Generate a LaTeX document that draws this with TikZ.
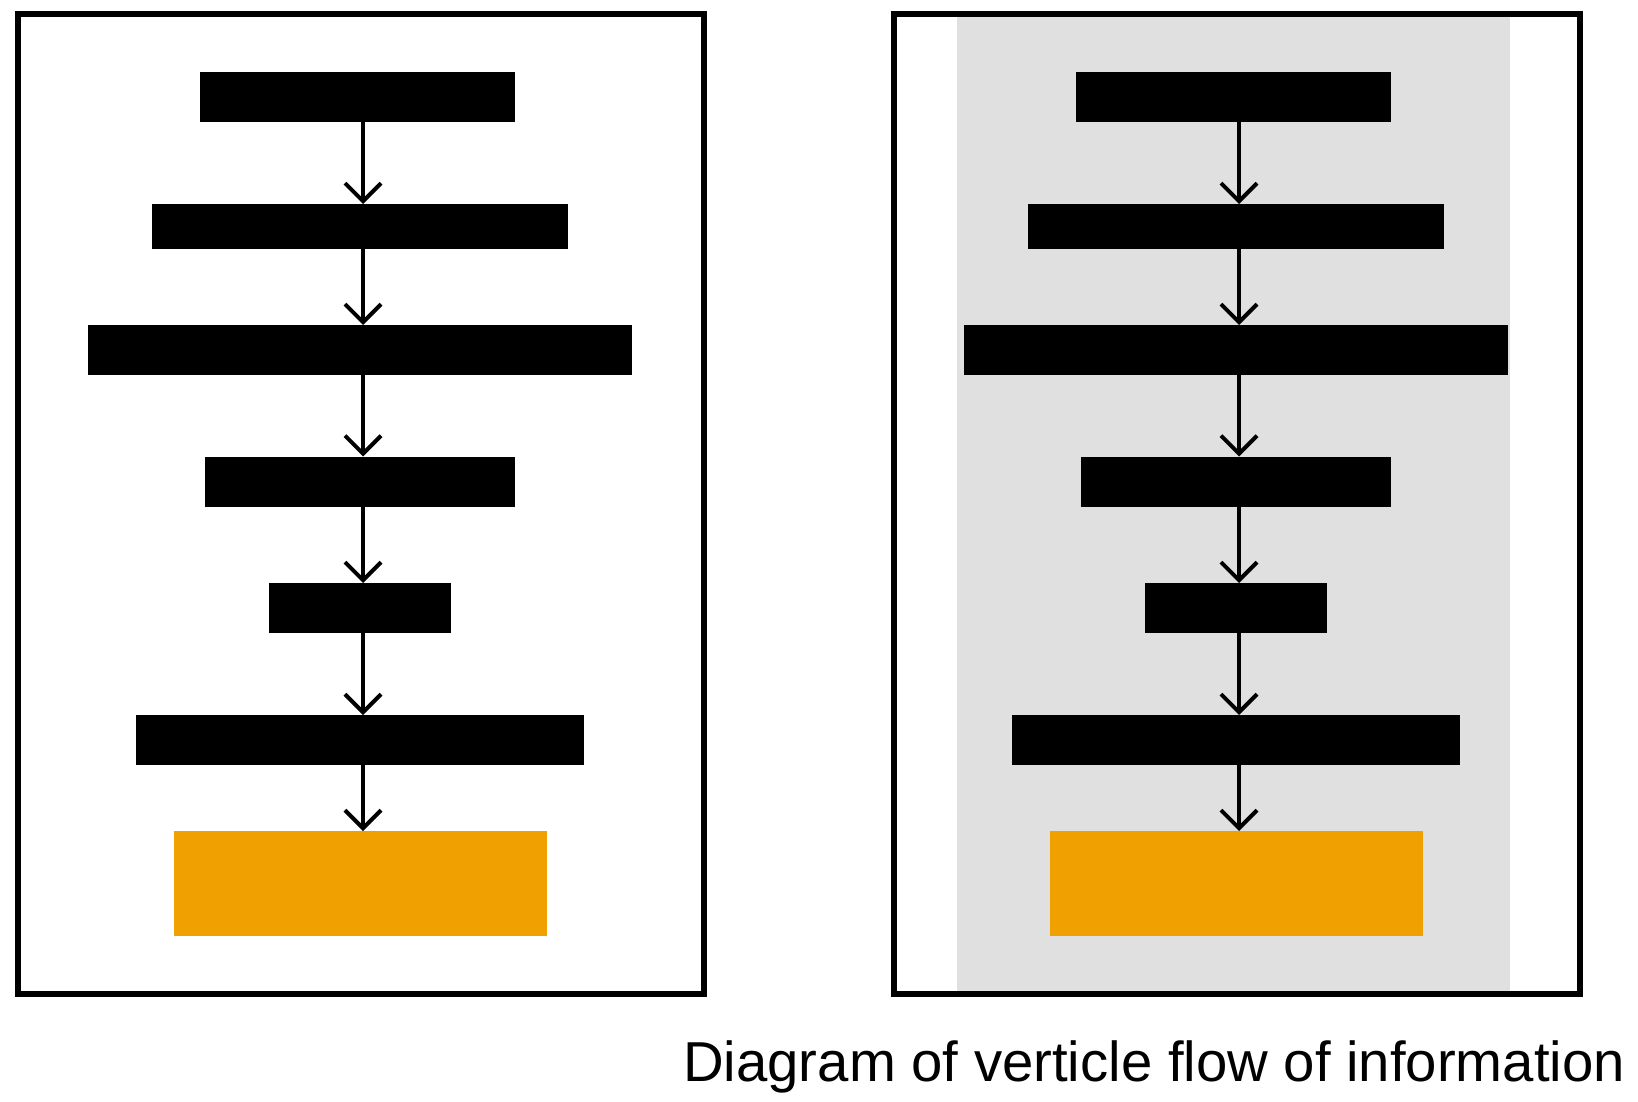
\documentclass[tikz,border=0pt]{standalone}
\usepackage{fontspec}
\setmainfont{Liberation Sans}
\usetikzlibrary{arrows.meta}
\definecolor{outorange}{RGB}{240,160,0}
\definecolor{bandgray}{RGB}{224,224,224}
\begin{document}
\begin{tikzpicture}[x=1pt, y=-1pt,
  bar/.style={rectangle,fill=black,inner sep=0pt,outer sep=0pt},
  out box/.style={rectangle,fill=outorange,inner sep=0pt,outer sep=0pt},
  panel/.style={rectangle,draw=black,line width=5.5pt,inner sep=0pt,minimum width=686pt,minimum height=980pt},
  flow/.style={-{Straight Barb[length=18pt,width=36pt]},line width=4pt,line cap=round}]
\useasboundingbox (0,0) rectangle (1638,1102);
% left panel
\node[panel] (frameL) at (361,504) {};
\node[bar,minimum width=315pt,minimum height=50pt] (l1) at (357.5,97) {};%1
\node[bar,minimum width=416pt,minimum height=45pt] (l2) at (360,226.5) {};%2
\node[bar,minimum width=544pt,minimum height=50pt] (l3) at (360,350) {};%3
\node[bar,minimum width=310pt,minimum height=50pt] (l4) at (359.5,481.5) {};%4
\node[bar,minimum width=182pt,minimum height=50pt] (l5) at (359.5,608) {};%5
\node[bar,minimum width=448pt,minimum height=50pt] (l6) at (360,740) {};%6
\node[out box,minimum width=373pt,minimum height=105pt] (l7) at (360.5,883.5) {};%7
\coordinate (spineL) at (363,0);
\foreach \a/\b in {l1/l2,l2/l3,l3/l4,l4/l5,l5/l6,l6/l7}
  \draw[flow] (\a.south -| spineL) -- (\b.north -| spineL);
% right panel
\begin{scope}[xshift=876pt]
\node[rectangle,fill=bandgray,inner sep=0pt,minimum width=553pt,minimum height=980pt] (band) at (357,504) {};
\node[panel] (frameR) at (361,504) {};
\node[bar,minimum width=315pt,minimum height=50pt] (r1) at (357.5,97) {};%1
\node[bar,minimum width=416pt,minimum height=45pt] (r2) at (360,226.5) {};%2
\node[bar,minimum width=544pt,minimum height=50pt] (r3) at (360,350) {};%3
\node[bar,minimum width=310pt,minimum height=50pt] (r4) at (359.5,481.5) {};%4
\node[bar,minimum width=182pt,minimum height=50pt] (r5) at (359.5,608) {};%5
\node[bar,minimum width=448pt,minimum height=50pt] (r6) at (360,740) {};%6
\node[out box,minimum width=373pt,minimum height=105pt] (r7) at (360.5,883.5) {};%7
\coordinate (spineR) at (363,0);
\foreach \a/\b in {r1/r2,r2/r3,r3/r4,r4/r5,r5/r6,r6/r7}
  \draw[flow] (\a.south -| spineR) -- (\b.north -| spineR);
\end{scope}
\node[anchor=base west,inner sep=0pt,font=\fontsize{56.3}{66}\selectfont] (caption) at (683,1081) {Diagram of verticle flow of information};
\end{tikzpicture}
\end{document}
